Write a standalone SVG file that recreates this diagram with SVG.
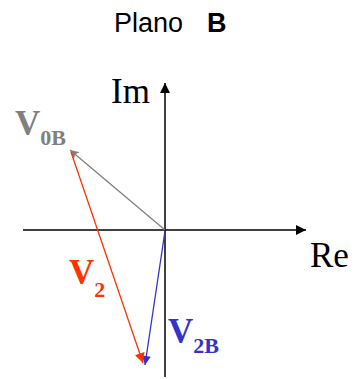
<svg xmlns="http://www.w3.org/2000/svg" width="356" height="379" viewBox="0 0 356 379">
<defs>
<style>
.axis{stroke:#000;stroke-width:1.5;fill:none}
.vec{fill:none;stroke-width:1.3}
.serif{font-family:"Liberation Serif","Times New Roman",serif}
.bold{font-weight:bold}
</style>
<marker id="ah" viewBox="0 0 10 10" refX="10" refY="5" markerWidth="10" markerHeight="10" markerUnits="userSpaceOnUse" orient="auto"><path d="M0,0 L10,5 L0,10 z" fill="#000"/></marker>
<marker id="ag" viewBox="0 0 10 10" refX="10" refY="5" markerWidth="11" markerHeight="9" markerUnits="userSpaceOnUse" orient="auto"><path d="M0,0 L10,5 L0,10 L2.5,5 z" fill="#808080"/></marker>
<marker id="ar" viewBox="0 0 10 10" refX="10" refY="5" markerWidth="11" markerHeight="10" markerUnits="userSpaceOnUse" orient="auto"><path d="M0,0 L10,5 L0,10 z" fill="#ff3300"/></marker>
<marker id="ab" viewBox="0 0 10 10" refX="10" refY="5" markerWidth="10" markerHeight="9" markerUnits="userSpaceOnUse" orient="auto"><path d="M0,0 L10,5 L0,10 z" fill="#3333cc"/></marker>
</defs>
<rect width="356" height="379" fill="#fff"/>
<g id="title"><text x="114" y="32" font-family="Liberation Sans, Arial, sans-serif" font-size="27" fill="#000">Plano<tspan x="207" font-weight="bold">B</tspan></text></g>
<g id="connectors">
<line class="axis" x1="23" y1="230" x2="306" y2="230" marker-end="url(#ah)"/>
<line class="axis" x1="165" y1="377" x2="165" y2="83" marker-end="url(#ah)"/>
<line class="vec" stroke="#808080" x1="165" y1="230" x2="70" y2="150" marker-end="url(#ag)"/>
<line class="vec" stroke="#3333cc" x1="165" y1="231" x2="145" y2="365" marker-end="url(#ab)"/>
<line class="vec" stroke="#ff3300" x1="71" y1="152" x2="143" y2="363" marker-end="url(#ar)"/>
</g>
<g id="label-im"><text class="serif" x="111" y="103" font-size="35" fill="#000">Im</text></g>
<g id="label-re"><text class="serif" x="310" y="267" font-size="35" fill="#000">Re</text></g>
<g id="label-v0b"><text class="serif bold" x="15" y="135" font-size="35" fill="#808080">V<tspan font-size="22" dy="10">0B</tspan></text></g>
<g id="label-v2"><text class="serif bold" x="69" y="284" font-size="35" fill="#ff3300">V<tspan font-size="22" dy="13">2</tspan></text></g>
<g id="label-v2b"><text class="serif bold" x="168" y="343" font-size="35" fill="#3333cc">V<tspan font-size="22" dy="10">2B</tspan></text></g>
</svg>
